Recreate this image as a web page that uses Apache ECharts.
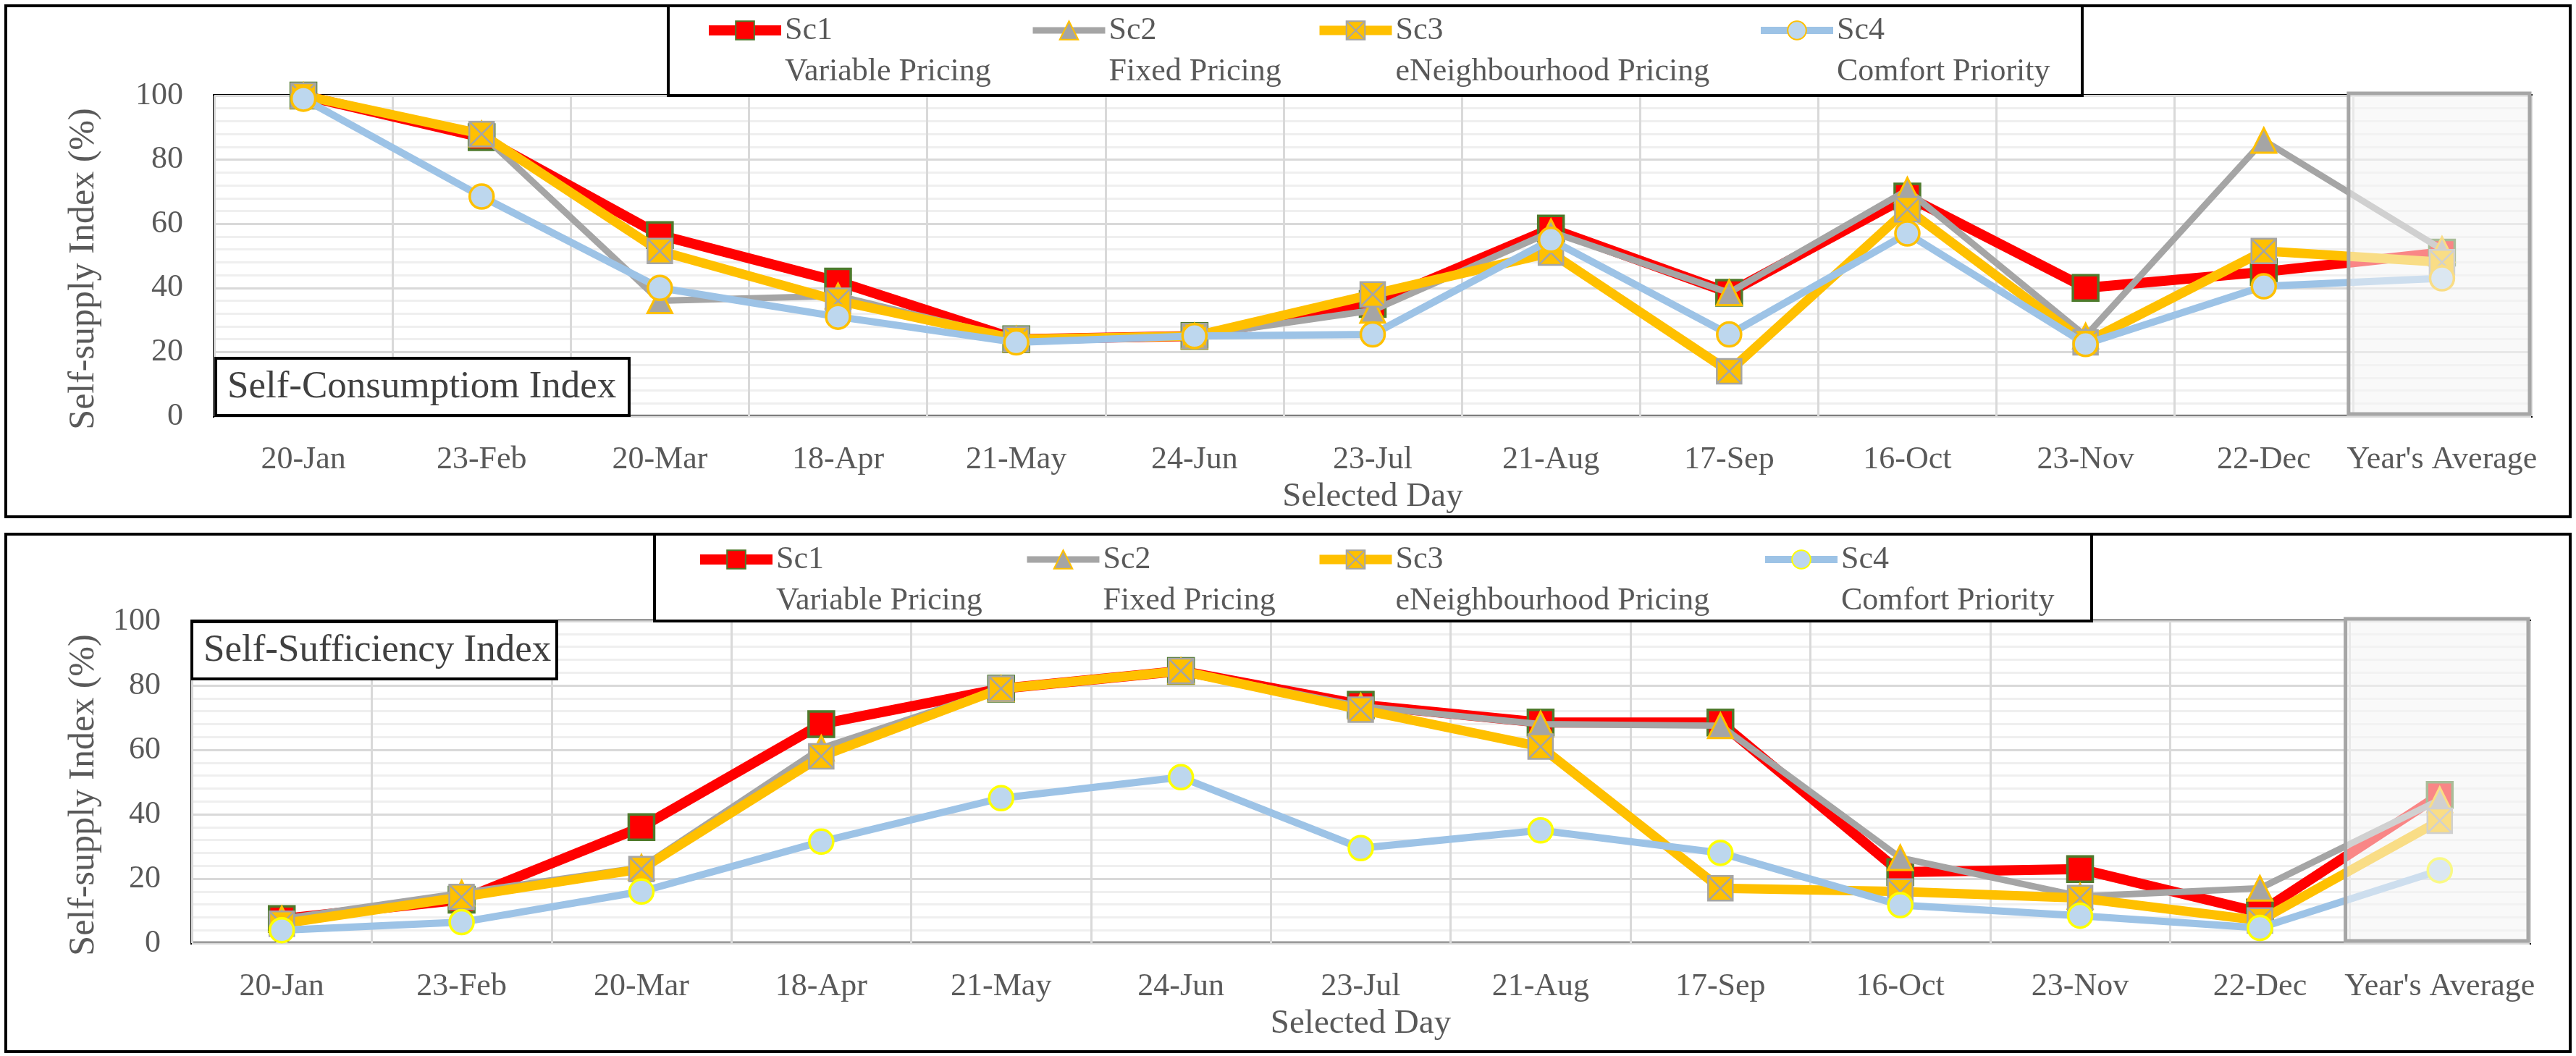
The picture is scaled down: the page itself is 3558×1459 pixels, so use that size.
<!DOCTYPE html>
<html>
<head>
<meta charset="utf-8">
<script src="https://cdn.jsdelivr.net/npm/echarts@6/dist/echarts.min.js"></script>
<style>
html,body{margin:0;padding:0;background:#fff;}
#c1{position:absolute;left:0;top:0;width:3558px;height:730px;}
#c2{position:absolute;left:0;top:730px;width:3558px;height:729px;}
</style>
</head>
<body>
<div id="c1"></div>
<div id="c2"></div>
<script>
// ---------- data ----------
const categories = ['20-Jan','23-Feb','20-Mar','18-Apr','21-May','24-Jun','23-Jul','21-Aug','17-Sep','16-Oct','23-Nov','22-Dec',"Year's Average"];
const seriesNames = ['Sc1','Sc2','Sc3','Sc4'];
const seriesSubtitles = ['Variable Pricing','Fixed Pricing','eNeighbourhood Pricing','Comfort Priority'];
const yTicks = [0,20,40,60,80,100];

// Self-Consumption Index (top panel)
const consSc1 = [100, 87, 56.5, 42, 24, 25, 35, 58.5, 38.5, 68.5, 40, 45, 51];
const consSc2 = [100, 88, 36, 37.5, 24, 25, 33, 57.5, 38.5, 70.5, 25, 86, 52];
const consSc3 = [100, 88, 51.5, 36, 24, 25, 38, 51, 14, 64.5, 23, 51.5, 48];
const consSc4 = [99, 68.5, 40, 31, 23, 25, 25.5, 55, 25.5, 57, 22.5, 40.5, 43];

// Self-Sufficiency Index (bottom panel)
const suffSc1 = [7.5, 13.5, 36, 68, 79, 84.5, 74, 68.5, 68.5, 22, 23, 9.5, 46];
const suffSc2 = [7.5, 15.5, 23.5, 60.5, 79, 84.5, 73.5, 68, 67.5, 26.5, 14.5, 17, 44.5];
const suffSc3 = [6, 14.3, 23, 58, 79, 84.5, 72.5, 61, 17, 16, 14, 7, 38];
const suffSc4 = [4, 6.5, 16, 31.5, 45, 51.5, 29.5, 35, 28, 11.8, 8.5, 4.7, 22.6];

// ---------- styling ----------
const FONT = '"Liberation Serif", "DejaVu Serif", serif';
const TXT = '#595959';
const xMarkPath = 'path://M0,0 L10,0 L10,10 L0,10 Z M0,0 L10,10 M10,0 L0,10';

function seriesStyles(circleBorder) {
  return [
    {symbol:'rect', symbolSize:35, line:{color:'#FF0000', width:14}, item:{color:'#FF0000', borderColor:'#4E7A2C', borderWidth:3.5}},
    {symbol:'triangle', symbolSize:34, line:{color:'#A5A5A5', width:9}, item:{color:'#A5A5A5', borderColor:'#FFC000', borderWidth:3}},
    {symbol:xMarkPath, symbolSize:34, line:{color:'#FFC000', width:13}, item:{color:'#FFC000', borderColor:'#A5A5A5', borderWidth:2.5}},
    {symbol:'circle', symbolSize:33, line:{color:'#9DC3E6', width:10}, item:{color:'#BDD7EE', borderColor:circleBorder, borderWidth:3.5}}
  ];
}

function makeOption(cfg) {
  const styles = seriesStyles(cfg.circleBorder);
  const series = cfg.data.map((d, i) => ({
    type:'line', name:seriesNames[i], data:d, z:2+i,
    symbol:styles[i].symbol, symbolSize:styles[i].symbolSize, showAllSymbol:true,
    lineStyle:styles[i].line, itemStyle:styles[i].item,
    emphasis:{disabled:true}, animation:false
  }));
  series.push({
    type:'custom', name:'avgBox', z:20, silent:true, animation:false,
    data:[[categories.length-1, yTicks[yTicks.length-1], yTicks[0]]],
    encode:{x:0, y:[1,2]},
    renderItem:function(params, api){
      const t = api.coord([api.value(0), api.value(1)]);
      const b = api.coord([api.value(0), api.value(2)]);
      const w = api.size([1,0])[0];
      return {type:'rect', shape:{x:t[0]-w/2-6, y:t[1]-3, width:w+4, height:b[1]-t[1]},
        style:{fill:'rgba(244,244,244,0.55)', stroke:'#A6A6A6', lineWidth:5}};
    }
  });
  const LH = 57;
  const legends = seriesNames.map((n, i) => ({
    data:[n], left:cfg.legendLefts[i], top:cfg.legendCenterY - 1.5*LH, padding:0,
    itemWidth:100, itemHeight:32, selectedMode:false,
    lineStyle:{width:styles[i].line.width},
    formatter:function(name){ return ' \n' + name + '\n' + seriesSubtitles[i]; },
    textStyle:{fontFamily:FONT, fontSize:44, color:TXT, lineHeight:LH}
  }));
  return {
    backgroundColor:'#fff',
    animation:false,
    title:{
      text:cfg.title, left:cfg.titleBox[0], top:cfg.titleBox[1],
      padding:[14,cfg.titleBox[2],12,16], borderColor:'#000', borderWidth:4, backgroundColor:'#fff',
      textStyle:{fontFamily:FONT, fontSize:53, color:'#404040', fontWeight:'normal'}
    },
    legend:legends,
    grid:{left:cfg.grid[0], right:cfg.grid[1], top:cfg.grid[2], bottom:cfg.grid[3],
      show:true, borderColor:'#000', borderWidth:4, backgroundColor:'transparent'},
    xAxis:{
      type:'category', data:categories, boundaryGap:true,
      axisLine:{show:false}, axisTick:{show:false},
      axisLabel:{interval:0, margin:38, fontFamily:FONT, fontSize:44, color:TXT},
      splitLine:{show:true, interval:0, lineStyle:{color:'#D9D9D9', width:3}},
      name:'Selected Day', nameLocation:'middle', nameGap:88,
      nameTextStyle:{fontFamily:FONT, fontSize:47, color:TXT}
    },
    yAxis:{
      type:'value', min:yTicks[0], max:yTicks[yTicks.length-1], interval:yTicks[1]-yTicks[0],
      axisLine:{show:false}, axisTick:{show:false},
      axisLabel:{margin:43, fontFamily:FONT, fontSize:44, color:TXT},
      splitLine:{show:true, lineStyle:{color:'#D9D9D9', width:3}},
      minorTick:{show:false, splitNumber:5},
      minorSplitLine:{show:true, lineStyle:{color:'#EFEFEF', width:3}},
      name:'Self-supply Index (%)', nameLocation:'middle', nameGap:cfg.yNameGap, nameRotate:90,
      nameTextStyle:{fontFamily:FONT, fontSize:50, color:TXT, padding:[0,36,0,0]}
    },
    graphic:[
      {type:'rect', silent:true, z:0, shape:{x:8, y:8, width:3542, height:cfg.outerH}, style:{fill:'none', stroke:'#000', lineWidth:4}},
      {type:'rect', silent:true, z:1, shape:{x:cfg.legendBox[0], y:8, width:cfg.legendBox[1]-cfg.legendBox[0], height:cfg.legendBox[2]-8}, style:{fill:'#fff', stroke:'#000', lineWidth:4}}
    ],
    series:series
  };
}

const chart1 = echarts.init(document.getElementById('c1'));
chart1.setOption(makeOption({
  data:[consSc1, consSc2, consSc3, consSc4], circleBorder:'#FFC000',
  title:'Self-Consumptiom Index', titleBox:[298, 495, 18],
  grid:[296, 62, 132, 155], yNameGap:155,
  legendLefts:[972, 1422, 1816, 2427], legendCenterY:42,
  legendBox:[923, 2876, 132], outerH:706
}));

const chart2 = echarts.init(document.getElementById('c2'));
chart2.setOption(makeOption({
  data:[suffSc1, suffSc2, suffSc3, suffSc4], circleBorder:'#FFFF00',
  title:'Self-Sufficiency Index', titleBox:[265, 129, 8],
  grid:[265, 64, 128, 156], yNameGap:124,
  legendLefts:[960, 1414, 1816, 2433], legendCenterY:43,
  legendBox:[904, 2889, 128], outerH:715
}));
</script>
</body>
</html>
